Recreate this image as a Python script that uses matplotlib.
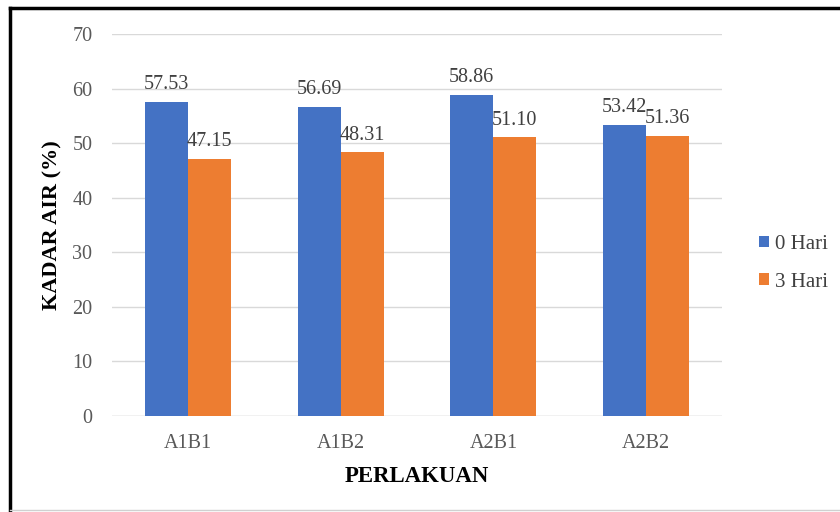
import matplotlib
matplotlib.use("Agg")
import matplotlib.pyplot as plt
from matplotlib.lines import Line2D
import numpy as np

plt.rcParams['font.family'] = ['Liberation Serif', 'DejaVu Serif']

categories = ['A1B1', 'A1B2', 'A2B1', 'A2B2']
hari0 = [57.53, 56.69, 58.86, 53.42]
hari3 = [47.15, 48.31, 51.10, 51.36]
series_names = ['0 Hari', '3 Hari']
colors = ['#4472C4', '#ED7D31']

fig = plt.figure(figsize=(8.4, 5.12), dpi=100)
ax = fig.add_axes([0.133, 0.1875, 0.727, 0.746])

x = np.arange(len(categories))
width = 0.282
bars0 = ax.bar(x - width / 2, hari0, width, color=colors[0], label=series_names[0], zorder=2)
bars1 = ax.bar(x + width / 2, hari3, width, color=colors[1], label=series_names[1], zorder=2)

for bars, vals in ((bars0, hari0), (bars1, hari3)):
    for b, v in zip(bars, vals):
        ax.text(b.get_x() + b.get_width() / 2, v + 1.4, f'{v:.2f}', ha='center', va='bottom',
                fontsize=14.5, color='#404040')

ax.set_xlim(-0.5, len(categories) - 0.5)
ax.set_ylim(0, 70)
ax.set_yticks(range(0, 71, 10))
ax.set_xticks(x)
ax.set_xticklabels(categories)
ax.tick_params(axis='both', length=0, labelsize=14.5, colors='#595959')
ax.tick_params(axis='y', pad=14)
ax.tick_params(axis='x', pad=13)
ax.yaxis.grid(True, color='#D9D9D9', linewidth=1, zorder=0)
for s in ax.spines.values():
    s.set_visible(False)
ax.axhline(0, color='#D9D9D9', linewidth=1, zorder=1)

ax.set_xlabel('PERLAKUAN', fontsize=16.5, fontweight='bold', labelpad=9)
ax.set_ylabel('KADAR AIR (%)', fontsize=16, fontweight='bold', labelpad=7)

ax.legend(loc='center left', bbox_to_anchor=(1.029, 0.40), frameon=False, fontsize=15,
          handlelength=0.48, handleheight=0.48, handletextpad=0.3, labelspacing=0.9,
          labelcolor='#404040')

# figure frame: black left/top, faint bottom
fig.add_artist(Line2D([0.012, 0.012], [0.0, 0.985], transform=fig.transFigure, color='black', linewidth=2.5))
fig.add_artist(Line2D([0.012, 1.0], [0.985, 0.985], transform=fig.transFigure, color='black', linewidth=2.5))
fig.add_artist(Line2D([0.012, 1.0], [0.004, 0.004], transform=fig.transFigure, color='#D0D0D0', linewidth=1))

fig.savefig('out.png', dpi=100)
